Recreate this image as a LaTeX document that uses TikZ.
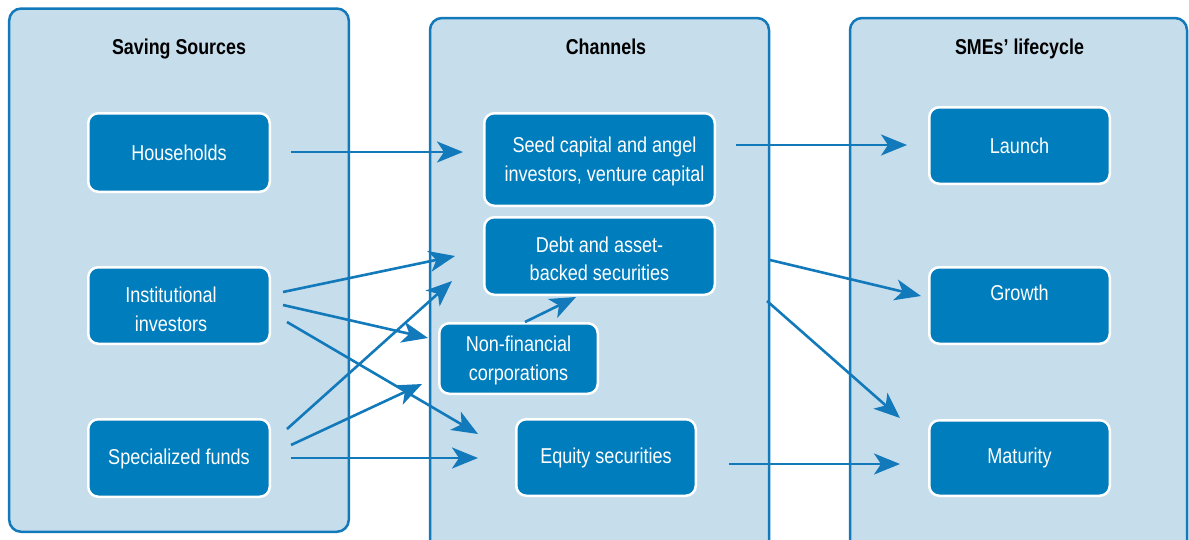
\documentclass[tikz,border=0pt]{standalone}
\usepackage{fontspec}
\setmainfont{Liberation Sans}
\newfontfamily\boxfont[FakeStretch=0.84]{Liberation Sans}
\newfontfamily\headfont[FakeStretch=0.83]{Liberation Sans}
\usetikzlibrary{arrows.meta}
\definecolor{edgeblue}{RGB}{18,121,186}
\definecolor{panelfill}{RGB}{198,221,236}
\definecolor{boxfill}{RGB}{0,125,188}
\tikzset{
  panel/.style={draw=edgeblue, line width=2.5pt, fill=panelfill, rounded corners=12pt},
  paneltitle/.style={anchor=base, font=\headfont\bfseries\fontsize{21.5}{26}\selectfont, text=black, inner sep=0pt},
  stagebox/.style={draw=white, line width=2.5pt, fill=boxfill, rounded corners=10pt,
    text=white, font=\boxfont\fontsize{21.5}{28.5}\selectfont, align=center, inner sep=0pt},
  flow/.style={draw=edgeblue, line width=2.6pt, -{Stealth[length=26pt,width=21pt,inset=7pt]}},
}
\begin{document}
\begin{tikzpicture}[x=1pt,y=-1pt]
\useasboundingbox (0,0) rectangle (1189,539);
% panels
\draw[panel] (9.2,8.5) rectangle (348.8,531.8);
\draw[panel] (430,18) rectangle (769,565);
\draw[panel] (850,18) rectangle (1187,565);
% titles
\node[paneltitle] (t1) at (179,54.5) {Saving Sources};
\node[paneltitle] (t2) at (606,54.5) {Channels};
\node[paneltitle] (t3) at (1019.5,54) {SMEs’ lifecycle};
% saving sources
\node[stagebox, minimum width=181.5pt, minimum height=78.5pt] (hh) at (179,152.5) {Households};
\node[stagebox, minimum width=181.5pt, minimum height=76.5pt] (inst) at (179,305.5) {\rule{0pt}{22.7pt}Institutional\hspace*{16pt}\\investors\hspace*{16pt}};
\node[stagebox, minimum width=181.5pt, minimum height=77.5pt] (sf) at (179,458) {\rule{0pt}{17.7pt}Specialized funds};
% channels
\node[stagebox, minimum width=230.5pt, minimum height=92.5pt] (seed) at (599.5,159.5) {\rule{0pt}{19.7pt}\hspace*{10pt}Seed capital and angel\\\hspace*{10pt}investors, venture capital};
\node[stagebox, minimum width=230.5pt, minimum height=77.5pt] (debt) at (599.5,256) {\rule{0pt}{20.7pt}Debt and asset-\\backed securities};
\node[stagebox, minimum width=158.5pt, minimum height=70.5pt] (nfc) at (518.5,358.5) {\rule{0pt}{19.7pt}Non-financial\\corporations};
\node[stagebox, minimum width=179.5pt, minimum height=76.5pt] (eq) at (606,457.5) {Equity securities};
% lifecycle
\node[stagebox, minimum width=180.5pt, minimum height=76.5pt] (launch) at (1019.5,145.5) {Launch};
\node[stagebox, minimum width=180.5pt, minimum height=76.5pt] (growth) at (1019.5,305.5) {Growth\rule[-25pt]{0pt}{25pt}};
\node[stagebox, minimum width=180.5pt, minimum height=75.5pt] (mat) at (1019.5,458) {Maturity};
% connector ends
\coordinate (hhA) at (291,152);   \coordinate (seedIn) at (463,152);
\coordinate (instA) at (283,292); \coordinate (debtInA) at (455,256);
\coordinate (instB) at (283,305); \coordinate (nfcInA) at (428,338);
\coordinate (instC) at (287,322); \coordinate (eqInA) at (478,434);
\coordinate (sfA) at (287,429);   \coordinate (debtInB) at (452,281);
\coordinate (sfB) at (291,445);   \coordinate (nfcInB) at (422,384);
\coordinate (sfC) at (291,458);   \coordinate (eqInB) at (478,458);
\coordinate (nfcOut) at (525,322); \coordinate (debtInC) at (576,297);
\coordinate (seedOut) at (736,145); \coordinate (launchIn) at (907,145);
\coordinate (debtOutA) at (770,260); \coordinate (growthIn) at (921,296);
\coordinate (debtOutB) at (767,301); \coordinate (matInA) at (900,418);
\coordinate (eqOut) at (729,464); \coordinate (matInB) at (900,464);
% connectors
\draw[flow] (hhA) -- (seedIn);
\draw[flow] (instA) -- (debtInA);
\draw[flow] (instB) -- (nfcInA);
\draw[flow] (instC) -- (eqInA);
\draw[flow] (sfA) -- (debtInB);
\draw[flow] (sfB) -- (nfcInB);
\draw[flow] (sfC) -- (eqInB);
\draw[flow] (nfcOut) -- (debtInC);
\draw[flow] (seedOut) -- (launchIn);
\draw[flow] (debtOutA) -- (growthIn);
\draw[flow] (debtOutB) -- (matInA);
\draw[flow] (eqOut) -- (matInB);
\end{tikzpicture}
\end{document}
